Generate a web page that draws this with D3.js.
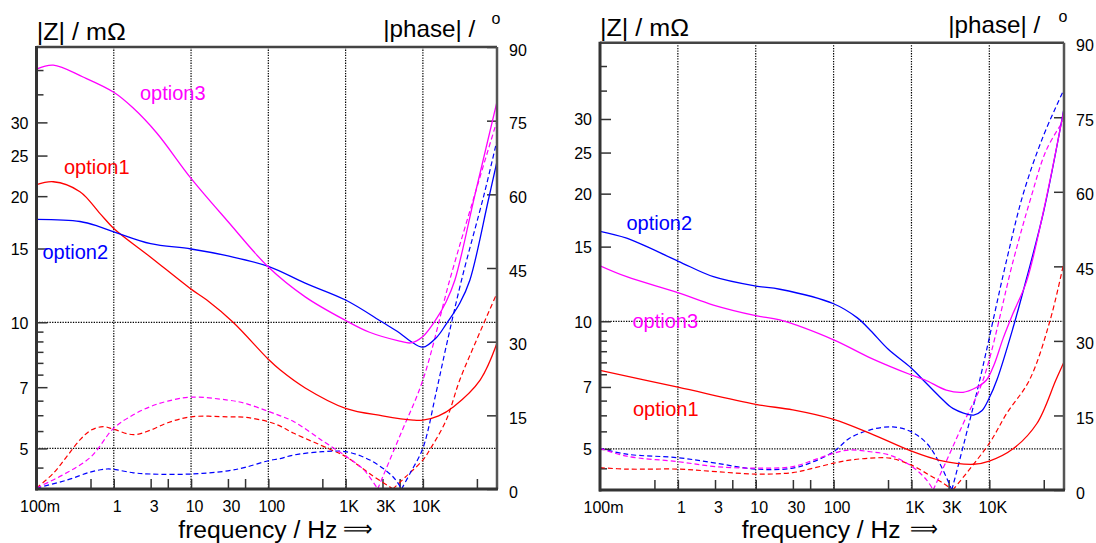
<!DOCTYPE html>
<html><head><meta charset="utf-8">
<script src="https://cdn.jsdelivr.net/npm/d3@7"></script>
<style>
body{margin:0;background:#fff}
svg{display:block}
text{font-family:"Liberation Sans",Arial,Helvetica,sans-serif;fill:#000}
</style>
</head><body>
<svg id="c" width="1096" height="543"></svg>
<script>
// ---------------- data ----------------
const seriesNames = ["option1", "option2", "option3"];
const seriesColors = ["#ff0000", "#0000ff", "#ff00ff"];

const xTickValues = [0.1, 1, 3, 10, 30, 100, 1000, 3000, 10000];
const xTickLabels = ["100m", "1", "3", "10", "30", "100", "1K", "3K", "10K"];
const xMinorTicks = [0.5, 1, 3, 5, 10, 30, 50, 100, 500, 1000, 3000, 5000, 10000, 50000];
const xGridValues = [1, 10, 100, 1000, 10000];
const zTickValues = [5, 7, 10, 15, 20, 25, 30];
const zMinorTicks = [4.5, 5.5, 6, 6.5, 7.5, 8, 8.5, 9, 9.5, 35, 40];
const zGridValues = [5, 10];
const phaseTickValues = [0, 15, 30, 45, 60, 75, 90];

// left chart: [frequency in Hz, |Z| in mOhm]
const leftZ_option1 = [[0.1,21.3],[0.165,21.65],[0.365,20.5],[0.66,18.2],[1,16.75],[3,14.3],[10,12.0],[16,11.3],[35,10.0],[100,8.16],[143,7.69],[300,6.97],[1000,6.23],[3000,5.98],[7500,5.84],[10000,5.84],[16000,5.98],[25000,6.29],[55000,7.28],[91000,8.92]];
const leftZ_option2 = [[0.1,17.6],[0.365,17.4],[0.66,16.9],[1.14,16.3],[3,15.4],[10,14.96],[30,14.4],[100,13.6],[300,12.4],[1000,11.3],[3000,10.0],[5000,9.43],[7000,9.0],[10000,8.72],[15000,9.2],[20000,9.9],[30000,11.1],[40500,12.6],[70000,19.5],[91000,24.2]];
const leftZ_option3 = [[0.1,40.2],[0.165,41.1],[0.4,38.5],[1,35.4],[1.77,32.5],[3.6,28.3],[10,22.05],[30,17.4],[100,13.55],[300,11.5],[1000,10.1],[2000,9.48],[5000,9.02],[7000,8.93],[10000,9.25],[15000,10.2],[20000,11.2],[25900,12.6],[47000,20.1],[91000,33.6]];
// left chart: [frequency in Hz, |phase| in degrees]
const leftP_option1 = [[0.1,0.2],[0.165,3.2],[0.246,6.6],[0.365,10.0],[0.51,12.0],[0.73,12.7],[1,12.15],[1.79,11.06],[3,12.0],[5,13.5],[10,14.7],[30,14.7],[50,14.6],[100,13.7],[143,12.8],[210,11.4],[627,8.1],[1000,6.6],[2060,3.1],[4100,0],[6000,2.5],[10000,5.9],[12400,8.1],[20000,14],[30000,22.2],[50000,30.5],[91000,39.9]];
const leftP_option2 = [[0.1,0.2],[0.246,1.8],[0.51,3.5],[0.81,4.07],[1,4.0],[1.79,3.3],[3,3.05],[10,3.05],[30,3.7],[50,4.4],[100,5.76],[143,6.2],[210,6.9],[505,7.6],[1000,7.6],[2060,5.9],[4100,2.5],[5300,0],[7000,3.5],[10000,8.3],[15000,20],[20000,29],[31700,42.6],[62000,60],[91000,71]];
const leftP_option3 = [[0.1,0.2],[0.246,3.3],[0.51,6.6],[1,12.4],[1.79,15.1],[3,16.8],[5,17.9],[10,18.7],[30,18.1],[50,17.45],[100,15.8],[143,14.9],[210,13.8],[505,9.8],[1000,6.7],[1720,3.9],[2600,0],[5000,10.7],[10000,22.2],[22300,42.6],[47000,60],[91000,75]];

// right chart
const rightZ_option1 = [[0.1,7.66],[1,6.99],[10,6.37],[30,6.18],[100,5.87],[295,5.44],[1000,4.94],[2300,4.7],[6300,4.6],[10000,4.68],[20400,5.01],[40800,5.74],[71600,7.27],[91000,8.02]];
const rightZ_option2 = [[0.1,16.3],[0.22,15.7],[1,13.87],[2.86,12.74],[10,12.11],[20.4,11.9],[100,11.0],[200,10.2],[300,9.5],[500,8.6],[1000,7.75],[1410,7.27],[2300,6.64],[3400,6.23],[6300,6.01],[8000,6.15],[10000,6.6],[12600,7.3],[20000,9.6],[30000,12.6],[50000,18.2],[91000,31.8]];
const rightZ_option3 = [[0.1,13.52],[0.22,12.74],[1,11.68],[2.86,10.92],[10,10.31],[20.4,10.07],[100,9.04],[300,8.19],[1000,7.47],[1500,7.27],[2800,6.88],[4600,6.8],[6700,6.97],[9200,7.27],[11500,7.9],[15000,9.1],[20000,10.4],[30000,12.4],[50000,18.3],[91000,31.6]];
const rightP_option1 = [[0.1,4.5],[0.22,4.2],[1,4.2],[3.1,3.7],[10,3.2],[30,3.5],[55,4.4],[100,5.4],[160,6.0],[295,6.4],[530,6.4],[1000,5.0],[1700,3.0],[2550,1.35],[3400,0],[10000,9.4],[16700,15.4],[32700,22.1],[60000,34],[91000,45.9]];
const rightP_option2 = [[0.1,8.4],[0.22,7.2],[1,6.5],[3.1,5.4],[10,4.2],[30,4.4],[55,5.7],[100,7.7],[160,10.4],[295,12.1],[577,12.7],[1000,11.7],[1570,9.4],[2300,5.4],[3300,0],[4600,8.7],[7500,22],[16700,46.3],[27400,59.7],[49000,71.1],[91000,80.6]];
const rightP_option3 = [[0.1,8.4],[0.22,6.8],[1,5.7],[3.1,4.7],[10,4.4],[30,4.7],[55,6.0],[100,7.4],[160,8.05],[295,7.7],[530,7.0],[1000,4.8],[1570,2.0],[1900,0],[2800,5.8],[4600,13.3],[8300,22.1],[20400,46.3],[33600,58.4],[54000,68.4],[91000,74.5]];

// ---------------- drawing ----------------
const svg = d3.select("#c");
const FONT = '"Liberation Sans",Arial,Helvetica,sans-serif';

const panels = [
  {id:"L", x0:36.5, x1:497, yTop:47, yBot:489,
   Z:[leftZ_option1,leftZ_option2,leftZ_option3], P:[leftP_option1,leftP_option2,leftP_option3],
   legend:[[64,173.5],[42.5,259],[140,100]],
   zTitle:[36.7,40], pTitle:[383.3,37], deg:[491.5,24], xlab:[178.3,537.5], arrow:[343.3,373.3]},
  {id:"R", x0:600, x1:1064, yTop:42.7, yBot:490,
   Z:[rightZ_option1,rightZ_option2,rightZ_option3], P:[rightP_option1,rightP_option2,rightP_option3],
   legend:[[633,416],[626.5,230],[632.5,327.5]],
   zTitle:[600,36], pTitle:[948.3,32.5], deg:[1058.5,21.7], xlab:[741.7,537.5], arrow:[910,938.3]}
];

panels.forEach(p => {
  const x = d3.scaleLog().domain([0.1, 91000]).range([p.x0, p.x1]);
  const yZ = d3.scaleLog().domain([4, 45.4]).range([p.yBot, p.yTop]);
  const yP = d3.scaleLinear().domain([0, 90]).range([p.yBot, p.yTop]);
  const g = svg.append("g");

  const clipId = "clip" + p.id;
  svg.append("defs").append("clipPath").attr("id", clipId)
    .append("rect").attr("x", p.x0).attr("y", p.yTop).attr("width", p.x1 - p.x0).attr("height", p.yBot - p.yTop);

  // grid
  g.selectAll(".vg").data(xGridValues).enter().append("line")
    .attr("x1", d => x(d)).attr("x2", d => x(d)).attr("y1", p.yTop).attr("y2", p.yBot)
    .attr("stroke", "#000").attr("stroke-width", 1.2).attr("stroke-dasharray", "1.3,1.3");
  g.selectAll(".hg").data(zGridValues).enter().append("line")
    .attr("x1", p.x0).attr("x2", p.x1).attr("y1", d => yZ(d)).attr("y2", d => yZ(d))
    .attr("stroke", "#000").attr("stroke-width", 1.2).attr("stroke-dasharray", "1.3,1.3");

  // bottom ticks
  g.append("g").attr("transform", `translate(0,${p.yBot})`)
    .call(d3.axisBottom(x).tickValues(xMinorTicks).tickSize(-10).tickFormat(""));
  // bottom labels
  const bl = g.append("g").attr("transform", `translate(0,${p.yBot})`)
    .call(d3.axisBottom(x).tickValues(xTickValues).tickSize(0).tickPadding(12)
      .tickFormat((d,i) => xTickLabels[i]));
  bl.selectAll("text").attr("dx", "3");

  // left axis (|Z|)
  const la = g.append("g").attr("transform", `translate(${p.x0},0)`)
    .call(d3.axisLeft(yZ).tickValues(zTickValues).tickSize(-11).tickPadding(8).tickFormat(d3.format("d")));
  la.selectAll("text").attr("dy", "0.37em");
  g.append("g").attr("transform", `translate(${p.x0},0)`)
    .call(d3.axisLeft(yZ).tickValues(zMinorTicks).tickSize(-7).tickFormat(""));

  // right axis (phase)
  const ra = g.append("g").attr("transform", `translate(${p.x1},0)`)
    .call(d3.axisRight(yP).tickValues(phaseTickValues).tickSize(-10).tickPadding(12));
  ra.selectAll("text").attr("dy", "0.5em");

  g.selectAll(".domain").remove();
  g.selectAll(".tick line").attr("stroke", "#333").attr("stroke-width", 1.5);
  g.selectAll(".tick text").attr("font-family", FONT).attr("font-size", 16).attr("fill", "#000");

  // curves
  const plot = g.append("g").attr("clip-path", `url(#${clipId})`);
  const lineZ = d3.line().x(d => x(d[0])).y(d => yZ(d[1])).curve(d3.curveCatmullRom.alpha(0.5));
  const lineP = d3.line().x(d => x(d[0])).y(d => yP(d[1])).curve(d3.curveCatmullRom.alpha(0.5));
  p.P.forEach((data, i) => {
    let mi = 0;
    data.forEach((d, k) => { if (k > 0 && d[1] <= data[mi][1] && d[0] > 100) mi = k; });
    [data.slice(0, mi + 1), data.slice(mi)].forEach(seg => {
      plot.append("path").attr("d", lineP(seg)).attr("fill", "none")
        .attr("stroke", seriesColors[i]).attr("stroke-width", 1.2).attr("stroke-dasharray", "5,3");
    });
  });
  p.Z.forEach((data, i) => {
    plot.append("path").attr("d", lineZ(data)).attr("fill", "none")
      .attr("stroke", seriesColors[i]).attr("stroke-width", 1.3);
  });

  // frame
  const fr = g.append("g");
  fr.append("line").attr("x1", p.x0).attr("x2", p.x1).attr("y1", p.yTop).attr("y2", p.yTop).attr("stroke", "#444").attr("stroke-width", 2.5);
  fr.append("line").attr("x1", p.x1).attr("x2", p.x1).attr("y1", p.yTop).attr("y2", p.yBot).attr("stroke", "#555").attr("stroke-width", 2.5);
  fr.append("line").attr("x1", p.x0 - 1).attr("x2", p.x1 + 1).attr("y1", p.yBot).attr("y2", p.yBot).attr("stroke", "#333").attr("stroke-width", 3);
  fr.append("line").attr("x1", p.x0).attr("x2", p.x0).attr("y1", p.yTop - 1).attr("y2", p.yBot + 1.5).attr("stroke", "#333").attr("stroke-width", 3);

  // legend labels
  seriesNames.forEach((n, i) => {
    g.append("text").attr("x", p.legend[i][0]).attr("y", p.legend[i][1])
      .attr("font-size", 20).attr("fill", seriesColors[i]).style("fill", seriesColors[i]).text(n);
  });

  // titles
  g.append("text").attr("x", p.zTitle[0]).attr("y", p.zTitle[1]).attr("font-size", 23)
    .attr("textLength", 89).attr("lengthAdjust", "spacingAndGlyphs").text("|Z| / mΩ");
  g.append("text").attr("x", p.pTitle[0]).attr("y", p.pTitle[1]).attr("font-size", 24)
    .attr("textLength", 92).attr("lengthAdjust", "spacingAndGlyphs").text("|phase| /");
  g.append("text").attr("x", p.deg[0]).attr("y", p.deg[1]).attr("font-size", 16).text("o");
  g.append("text").attr("x", p.xlab[0]).attr("y", p.xlab[1]).attr("font-size", 23.5)
    .attr("textLength", 159).attr("lengthAdjust", "spacingAndGlyphs").text("frequency / Hz");
  g.append("text").attr("x", p.arrow[0]).attr("y", p.xlab[1] - 1.5).attr("font-size", 22)
    .attr("font-family", '"DejaVu Sans",sans-serif')
    .attr("textLength", p.arrow[1] - p.arrow[0]).attr("lengthAdjust", "spacingAndGlyphs").text("⟹");
});
</script>
</body></html>
